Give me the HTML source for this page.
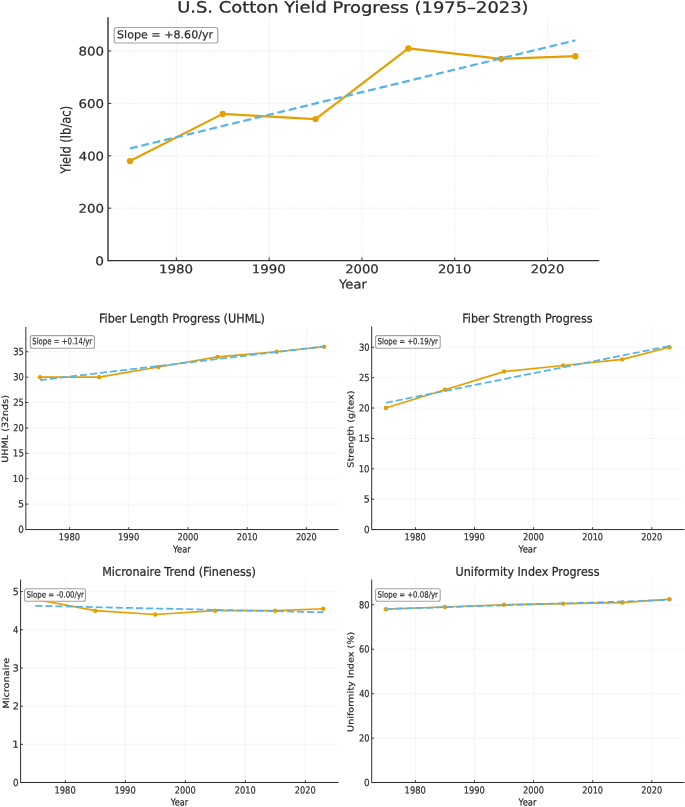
<!DOCTYPE html>
<html lang="en"><head><meta charset="utf-8"><title>U.S. Cotton Yield Progress</title>
<style>
html,body{margin:0;padding:0;background:#fff;}
body{width:685px;height:807px;overflow:hidden;}
svg{display:block;will-change:transform;}
svg text{font-family:"DejaVu Sans","Liberation Sans",sans-serif;text-rendering:geometricPrecision;stroke:#2b2b2b;stroke-linejoin:round;}
</style></head><body>
<svg width="685" height="807" viewBox="0 0 685 807">
<defs>
<filter id="b0" x="0" y="0" width="685" height="807" filterUnits="userSpaceOnUse" color-interpolation-filters="sRGB"><feGaussianBlur stdDeviation="0.28"/></filter>
<filter id="b1" x="0" y="0" width="685" height="807" filterUnits="userSpaceOnUse" color-interpolation-filters="sRGB"><feGaussianBlur stdDeviation="0.42"/></filter>
</defs>
<rect width="685" height="807" fill="#fff"/>
<g filter="url(#b0)">
<line x1="176.35" y1="18" x2="176.35" y2="260.6" stroke="#e3e3e3" stroke-width="0.8" stroke-dasharray="1.3 1.2"/>
<line x1="269.15" y1="18" x2="269.15" y2="260.6" stroke="#e3e3e3" stroke-width="0.8" stroke-dasharray="1.3 1.2"/>
<line x1="361.95" y1="18" x2="361.95" y2="260.6" stroke="#e3e3e3" stroke-width="0.8" stroke-dasharray="1.3 1.2"/>
<line x1="454.75" y1="18" x2="454.75" y2="260.6" stroke="#e3e3e3" stroke-width="0.8" stroke-dasharray="1.3 1.2"/>
<line x1="547.55" y1="18" x2="547.55" y2="260.6" stroke="#e3e3e3" stroke-width="0.8" stroke-dasharray="1.3 1.2"/>
<line x1="108" y1="208.20" x2="598.6" y2="208.20" stroke="#e3e3e3" stroke-width="0.8" stroke-dasharray="1.3 1.2"/>
<line x1="108" y1="155.80" x2="598.6" y2="155.80" stroke="#e3e3e3" stroke-width="0.8" stroke-dasharray="1.3 1.2"/>
<line x1="108" y1="103.40" x2="598.6" y2="103.40" stroke="#e3e3e3" stroke-width="0.8" stroke-dasharray="1.3 1.2"/>
<line x1="108" y1="51.00" x2="598.6" y2="51.00" stroke="#e3e3e3" stroke-width="0.8" stroke-dasharray="1.3 1.2"/>
<polyline points="129.95,161.04 222.75,113.88 315.55,119.12 408.35,48.38 501.15,58.86 575.39,56.24" fill="none" stroke="#E69F00" stroke-width="2.2" stroke-linejoin="round" stroke-linecap="square"/>
<circle cx="129.95" cy="161.04" r="3.15" fill="#E69F00"/>
<circle cx="222.75" cy="113.88" r="3.15" fill="#E69F00"/>
<circle cx="315.55" cy="119.12" r="3.15" fill="#E69F00"/>
<circle cx="408.35" cy="48.38" r="3.15" fill="#E69F00"/>
<circle cx="501.15" cy="58.86" r="3.15" fill="#E69F00"/>
<circle cx="575.39" cy="56.24" r="3.15" fill="#E69F00"/>
<line x1="129.95" y1="148.50" x2="575.39" y2="40.34" stroke="#56B4E9" stroke-width="2.2" stroke-dasharray="7.85 3.82"/>
<path d="M108 18 V260.6 H598.6" fill="none" stroke="#333333" stroke-width="1.4" stroke-linecap="square"/>
<line x1="176.35" y1="260.6" x2="176.35" y2="257.40000000000003" stroke="#333333" stroke-width="1"/>
<line x1="269.15" y1="260.6" x2="269.15" y2="257.40000000000003" stroke="#333333" stroke-width="1"/>
<line x1="361.95" y1="260.6" x2="361.95" y2="257.40000000000003" stroke="#333333" stroke-width="1"/>
<line x1="454.75" y1="260.6" x2="454.75" y2="257.40000000000003" stroke="#333333" stroke-width="1"/>
<line x1="547.55" y1="260.6" x2="547.55" y2="257.40000000000003" stroke="#333333" stroke-width="1"/>
<line x1="108" y1="260.60" x2="111.2" y2="260.60" stroke="#333333" stroke-width="1"/>
<line x1="108" y1="208.20" x2="111.2" y2="208.20" stroke="#333333" stroke-width="1"/>
<line x1="108" y1="155.80" x2="111.2" y2="155.80" stroke="#333333" stroke-width="1"/>
<line x1="108" y1="103.40" x2="111.2" y2="103.40" stroke="#333333" stroke-width="1"/>
<line x1="108" y1="51.00" x2="111.2" y2="51.00" stroke="#333333" stroke-width="1"/>
<text transform="translate(159.01,273.20) rotate(0.05) scale(1.1155,1)" font-size="12" stroke-width="0.216" fill="#2b2b2b">1980</text>
<text transform="translate(251.81,273.20) rotate(0.05) scale(1.1155,1)" font-size="12" stroke-width="0.216" fill="#2b2b2b">1990</text>
<text transform="translate(345.14,273.20) rotate(0.05) scale(1.0978,1)" font-size="12" stroke-width="0.216" fill="#2b2b2b">2000</text>
<text transform="translate(437.94,273.20) rotate(0.05) scale(1.0978,1)" font-size="12" stroke-width="0.216" fill="#2b2b2b">2010</text>
<text transform="translate(530.74,273.20) rotate(0.05) scale(1.0978,1)" font-size="12" stroke-width="0.216" fill="#2b2b2b">2020</text>
<text transform="translate(95.30,265.20) rotate(0.05) scale(1.1421,1)" font-size="12" stroke-width="0.216" fill="#2b2b2b">0</text>
<text transform="translate(78.42,212.80) rotate(0.05) scale(1.1175,1)" font-size="12" stroke-width="0.216" fill="#2b2b2b">200</text>
<text transform="translate(78.76,160.40) rotate(0.05) scale(1.1023,1)" font-size="12" stroke-width="0.216" fill="#2b2b2b">400</text>
<text transform="translate(78.47,108.00) rotate(0.05) scale(1.1153,1)" font-size="12" stroke-width="0.216" fill="#2b2b2b">600</text>
<text transform="translate(78.47,55.60) rotate(0.05) scale(1.1153,1)" font-size="12" stroke-width="0.216" fill="#2b2b2b">800</text>
<rect x="114.25" y="27.5" width="103.50" height="15.50" rx="2.2" fill="#fff" fill-opacity="0.85" stroke="#a4a4a4" stroke-width="1.2"/>
<text transform="translate(117.02,38.25) rotate(0.05) scale(1.0283,1)" font-size="10.8" stroke-width="0.194" fill="#2b2b2b">Slope = +8.60/yr</text>
<text transform="translate(177.21,12.50) rotate(0.05) scale(1.1546,1)" font-size="15.5" stroke-width="0.279" fill="#2b2b2b">U.S. Cotton Yield Progress (1975–2023)</text>
<text transform="translate(339.10,288.60) rotate(0.05) scale(1.0654,1)" font-size="12.3" stroke-width="0.221" fill="#2b2b2b">Year</text>
<text transform="translate(70.40,173.75) rotate(-89.95) scale(0.9610,1.1400)" font-size="12" stroke-width="0.216" fill="#2b2b2b">Yield (lb/ac)</text>
</g>
<g filter="url(#b1)">
<line x1="69.60" y1="327.5" x2="69.60" y2="529.55" stroke="#f1f1f1" stroke-width="0.7" stroke-dasharray="none"/>
<line x1="128.80" y1="327.5" x2="128.80" y2="529.55" stroke="#f1f1f1" stroke-width="0.7" stroke-dasharray="none"/>
<line x1="188.00" y1="327.5" x2="188.00" y2="529.55" stroke="#f1f1f1" stroke-width="0.7" stroke-dasharray="none"/>
<line x1="247.20" y1="327.5" x2="247.20" y2="529.55" stroke="#f1f1f1" stroke-width="0.7" stroke-dasharray="none"/>
<line x1="306.40" y1="327.5" x2="306.40" y2="529.55" stroke="#f1f1f1" stroke-width="0.7" stroke-dasharray="none"/>
<line x1="25.85" y1="504.11" x2="338" y2="504.11" stroke="#f1f1f1" stroke-width="0.7" stroke-dasharray="none"/>
<line x1="25.85" y1="478.72" x2="338" y2="478.72" stroke="#f1f1f1" stroke-width="0.7" stroke-dasharray="none"/>
<line x1="25.85" y1="453.33" x2="338" y2="453.33" stroke="#f1f1f1" stroke-width="0.7" stroke-dasharray="none"/>
<line x1="25.85" y1="427.94" x2="338" y2="427.94" stroke="#f1f1f1" stroke-width="0.7" stroke-dasharray="none"/>
<line x1="25.85" y1="402.55" x2="338" y2="402.55" stroke="#f1f1f1" stroke-width="0.7" stroke-dasharray="none"/>
<line x1="25.85" y1="377.16" x2="338" y2="377.16" stroke="#f1f1f1" stroke-width="0.7" stroke-dasharray="none"/>
<line x1="25.85" y1="351.77" x2="338" y2="351.77" stroke="#f1f1f1" stroke-width="0.7" stroke-dasharray="none"/>
<polyline points="40.00,377.16 99.20,377.16 158.40,367.00 217.60,356.85 276.80,351.77 324.16,346.69" fill="none" stroke="#E69F00" stroke-width="1.7" stroke-linejoin="round" stroke-linecap="square"/>
<circle cx="40.00" cy="377.16" r="2.2" fill="#E69F00"/>
<circle cx="99.20" cy="377.16" r="2.2" fill="#E69F00"/>
<circle cx="158.40" cy="367.00" r="2.2" fill="#E69F00"/>
<circle cx="217.60" cy="356.85" r="2.2" fill="#E69F00"/>
<circle cx="276.80" cy="351.77" r="2.2" fill="#E69F00"/>
<circle cx="324.16" cy="346.69" r="2.2" fill="#E69F00"/>
<line x1="40.00" y1="380.10" x2="324.16" y2="346.38" stroke="#56B4E9" stroke-width="1.75" stroke-dasharray="7.03 3.04"/>
<path d="M25.85 327.5 V529.55 H338" fill="none" stroke="#2e2e2e" stroke-width="1.0" stroke-linecap="square"/>
<line x1="69.60" y1="529.55" x2="69.60" y2="527.15" stroke="#2e2e2e" stroke-width="0.9"/>
<line x1="128.80" y1="529.55" x2="128.80" y2="527.15" stroke="#2e2e2e" stroke-width="0.9"/>
<line x1="188.00" y1="529.55" x2="188.00" y2="527.15" stroke="#2e2e2e" stroke-width="0.9"/>
<line x1="247.20" y1="529.55" x2="247.20" y2="527.15" stroke="#2e2e2e" stroke-width="0.9"/>
<line x1="306.40" y1="529.55" x2="306.40" y2="527.15" stroke="#2e2e2e" stroke-width="0.9"/>
<line x1="25.85" y1="529.50" x2="28.25" y2="529.50" stroke="#2e2e2e" stroke-width="0.9"/>
<line x1="25.85" y1="504.11" x2="28.25" y2="504.11" stroke="#2e2e2e" stroke-width="0.9"/>
<line x1="25.85" y1="478.72" x2="28.25" y2="478.72" stroke="#2e2e2e" stroke-width="0.9"/>
<line x1="25.85" y1="453.33" x2="28.25" y2="453.33" stroke="#2e2e2e" stroke-width="0.9"/>
<line x1="25.85" y1="427.94" x2="28.25" y2="427.94" stroke="#2e2e2e" stroke-width="0.9"/>
<line x1="25.85" y1="402.55" x2="28.25" y2="402.55" stroke="#2e2e2e" stroke-width="0.9"/>
<line x1="25.85" y1="377.16" x2="28.25" y2="377.16" stroke="#2e2e2e" stroke-width="0.9"/>
<line x1="25.85" y1="351.77" x2="28.25" y2="351.77" stroke="#2e2e2e" stroke-width="0.9"/>
<text transform="translate(58.77,540.30) rotate(0.05) scale(0.8609,1)" font-size="9.7" stroke-width="0.213" fill="#2a2a2a">1980</text>
<text transform="translate(117.97,540.30) rotate(0.05) scale(0.8609,1)" font-size="9.7" stroke-width="0.213" fill="#2a2a2a">1990</text>
<text transform="translate(177.50,540.30) rotate(0.05) scale(0.8471,1)" font-size="9.7" stroke-width="0.213" fill="#2a2a2a">2000</text>
<text transform="translate(236.70,540.30) rotate(0.05) scale(0.8471,1)" font-size="9.7" stroke-width="0.213" fill="#2a2a2a">2010</text>
<text transform="translate(295.90,540.30) rotate(0.05) scale(0.8471,1)" font-size="9.7" stroke-width="0.213" fill="#2a2a2a">2020</text>
<text transform="translate(18.13,532.70) rotate(0.05) scale(0.9153,1)" font-size="9.7" stroke-width="0.213" fill="#2a2a2a">0</text>
<text transform="translate(17.96,507.31) rotate(0.05) scale(0.9818,1)" font-size="9.7" stroke-width="0.213" fill="#2a2a2a">5</text>
<text transform="translate(12.84,481.92) rotate(0.05) scale(0.8847,1)" font-size="9.7" stroke-width="0.213" fill="#2a2a2a">10</text>
<text transform="translate(12.82,456.53) rotate(0.05) scale(0.9024,1)" font-size="9.7" stroke-width="0.213" fill="#2a2a2a">15</text>
<text transform="translate(13.19,431.14) rotate(0.05) scale(0.8545,1)" font-size="9.7" stroke-width="0.213" fill="#2a2a2a">20</text>
<text transform="translate(13.18,405.75) rotate(0.05) scale(0.8710,1)" font-size="9.7" stroke-width="0.213" fill="#2a2a2a">25</text>
<text transform="translate(13.16,380.36) rotate(0.05) scale(0.8578,1)" font-size="9.7" stroke-width="0.213" fill="#2a2a2a">30</text>
<text transform="translate(13.14,354.97) rotate(0.05) scale(0.8744,1)" font-size="9.7" stroke-width="0.213" fill="#2a2a2a">35</text>
<rect x="30.35" y="335.6" width="64.10" height="12.60" rx="2" fill="#fff" fill-opacity="0.85" stroke="#a2a2a2" stroke-width="1.1"/>
<text transform="translate(32.29,344.25) rotate(0.05) scale(0.7802,1)" font-size="8.9" stroke-width="0.196" fill="#2a2a2a">Slope = +0.14/yr</text>
<text transform="translate(98.91,322.50) rotate(0.05) scale(0.9351,1)" font-size="12" stroke-width="0.264" fill="#2a2a2a">Fiber Length Progress (UHML)</text>
<text transform="translate(173.00,552.50) rotate(0.05) scale(0.8820,1)" font-size="9.5" stroke-width="0.209" fill="#2a2a2a">Year</text>
<text transform="translate(8.00,462.63) rotate(-89.95) scale(0.9963,0.9000)" font-size="9.6" stroke-width="0.211" fill="#2a2a2a">UHML (32nds)</text>
</g>
<g filter="url(#b1)">
<line x1="415.40" y1="327" x2="415.40" y2="529.55" stroke="#f1f1f1" stroke-width="0.7" stroke-dasharray="none"/>
<line x1="474.50" y1="327" x2="474.50" y2="529.55" stroke="#f1f1f1" stroke-width="0.7" stroke-dasharray="none"/>
<line x1="533.60" y1="327" x2="533.60" y2="529.55" stroke="#f1f1f1" stroke-width="0.7" stroke-dasharray="none"/>
<line x1="592.70" y1="327" x2="592.70" y2="529.55" stroke="#f1f1f1" stroke-width="0.7" stroke-dasharray="none"/>
<line x1="651.80" y1="327" x2="651.80" y2="529.55" stroke="#f1f1f1" stroke-width="0.7" stroke-dasharray="none"/>
<line x1="371.7" y1="499.21" x2="684" y2="499.21" stroke="#f1f1f1" stroke-width="0.7" stroke-dasharray="none"/>
<line x1="371.7" y1="468.82" x2="684" y2="468.82" stroke="#f1f1f1" stroke-width="0.7" stroke-dasharray="none"/>
<line x1="371.7" y1="438.43" x2="684" y2="438.43" stroke="#f1f1f1" stroke-width="0.7" stroke-dasharray="none"/>
<line x1="371.7" y1="408.04" x2="684" y2="408.04" stroke="#f1f1f1" stroke-width="0.7" stroke-dasharray="none"/>
<line x1="371.7" y1="377.65" x2="684" y2="377.65" stroke="#f1f1f1" stroke-width="0.7" stroke-dasharray="none"/>
<line x1="371.7" y1="347.26" x2="684" y2="347.26" stroke="#f1f1f1" stroke-width="0.7" stroke-dasharray="none"/>
<polyline points="385.85,408.04 444.95,389.81 504.05,371.57 563.15,365.49 622.25,359.42 669.53,347.26" fill="none" stroke="#E69F00" stroke-width="1.7" stroke-linejoin="round" stroke-linecap="square"/>
<circle cx="385.85" cy="408.04" r="2.2" fill="#E69F00"/>
<circle cx="444.95" cy="389.81" r="2.2" fill="#E69F00"/>
<circle cx="504.05" cy="371.57" r="2.2" fill="#E69F00"/>
<circle cx="563.15" cy="365.49" r="2.2" fill="#E69F00"/>
<circle cx="622.25" cy="359.42" r="2.2" fill="#E69F00"/>
<circle cx="669.53" cy="347.26" r="2.2" fill="#E69F00"/>
<line x1="385.85" y1="402.74" x2="669.53" y2="346.03" stroke="#56B4E9" stroke-width="1.75" stroke-dasharray="7.03 3.04"/>
<path d="M371.7 327 V529.55 H684" fill="none" stroke="#2e2e2e" stroke-width="1.0" stroke-linecap="square"/>
<line x1="415.40" y1="529.55" x2="415.40" y2="527.15" stroke="#2e2e2e" stroke-width="0.9"/>
<line x1="474.50" y1="529.55" x2="474.50" y2="527.15" stroke="#2e2e2e" stroke-width="0.9"/>
<line x1="533.60" y1="529.55" x2="533.60" y2="527.15" stroke="#2e2e2e" stroke-width="0.9"/>
<line x1="592.70" y1="529.55" x2="592.70" y2="527.15" stroke="#2e2e2e" stroke-width="0.9"/>
<line x1="651.80" y1="529.55" x2="651.80" y2="527.15" stroke="#2e2e2e" stroke-width="0.9"/>
<line x1="371.7" y1="529.60" x2="374.09999999999997" y2="529.60" stroke="#2e2e2e" stroke-width="0.9"/>
<line x1="371.7" y1="499.21" x2="374.09999999999997" y2="499.21" stroke="#2e2e2e" stroke-width="0.9"/>
<line x1="371.7" y1="468.82" x2="374.09999999999997" y2="468.82" stroke="#2e2e2e" stroke-width="0.9"/>
<line x1="371.7" y1="438.43" x2="374.09999999999997" y2="438.43" stroke="#2e2e2e" stroke-width="0.9"/>
<line x1="371.7" y1="408.04" x2="374.09999999999997" y2="408.04" stroke="#2e2e2e" stroke-width="0.9"/>
<line x1="371.7" y1="377.65" x2="374.09999999999997" y2="377.65" stroke="#2e2e2e" stroke-width="0.9"/>
<line x1="371.7" y1="347.26" x2="374.09999999999997" y2="347.26" stroke="#2e2e2e" stroke-width="0.9"/>
<text transform="translate(404.57,540.30) rotate(0.05) scale(0.8609,1)" font-size="9.7" stroke-width="0.213" fill="#2a2a2a">1980</text>
<text transform="translate(463.67,540.30) rotate(0.05) scale(0.8609,1)" font-size="9.7" stroke-width="0.213" fill="#2a2a2a">1990</text>
<text transform="translate(523.10,540.30) rotate(0.05) scale(0.8471,1)" font-size="9.7" stroke-width="0.213" fill="#2a2a2a">2000</text>
<text transform="translate(582.20,540.30) rotate(0.05) scale(0.8471,1)" font-size="9.7" stroke-width="0.213" fill="#2a2a2a">2010</text>
<text transform="translate(641.30,540.30) rotate(0.05) scale(0.8471,1)" font-size="9.7" stroke-width="0.213" fill="#2a2a2a">2020</text>
<text transform="translate(363.93,533.00) rotate(0.05) scale(0.9153,1)" font-size="9.7" stroke-width="0.213" fill="#2a2a2a">0</text>
<text transform="translate(363.76,502.61) rotate(0.05) scale(0.9818,1)" font-size="9.7" stroke-width="0.213" fill="#2a2a2a">5</text>
<text transform="translate(358.64,472.22) rotate(0.05) scale(0.8847,1)" font-size="9.7" stroke-width="0.213" fill="#2a2a2a">10</text>
<text transform="translate(358.62,441.83) rotate(0.05) scale(0.9024,1)" font-size="9.7" stroke-width="0.213" fill="#2a2a2a">15</text>
<text transform="translate(358.99,411.44) rotate(0.05) scale(0.8545,1)" font-size="9.7" stroke-width="0.213" fill="#2a2a2a">20</text>
<text transform="translate(358.98,381.05) rotate(0.05) scale(0.8710,1)" font-size="9.7" stroke-width="0.213" fill="#2a2a2a">25</text>
<text transform="translate(358.96,350.66) rotate(0.05) scale(0.8578,1)" font-size="9.7" stroke-width="0.213" fill="#2a2a2a">30</text>
<rect x="375.6" y="335.6" width="64.60" height="12.60" rx="2" fill="#fff" fill-opacity="0.85" stroke="#a2a2a2" stroke-width="1.1"/>
<text transform="translate(377.55,344.25) rotate(0.05) scale(0.8219,1)" font-size="8.5" stroke-width="0.187" fill="#2a2a2a">Slope = +0.19/yr</text>
<text transform="translate(462.16,322.50) rotate(0.05) scale(0.9317,1)" font-size="12" stroke-width="0.264" fill="#2a2a2a">Fiber Strength Progress</text>
<text transform="translate(518.60,552.40) rotate(0.05) scale(0.8894,1)" font-size="9.5" stroke-width="0.209" fill="#2a2a2a">Year</text>
<text transform="translate(353.40,467.64) rotate(-89.95) scale(1.0197,0.8800)" font-size="9.5" stroke-width="0.209" fill="#2a2a2a">Strength (g/tex)</text>
</g>
<g filter="url(#b1)">
<line x1="65.30" y1="580" x2="65.30" y2="782.5" stroke="#f1f1f1" stroke-width="0.7" stroke-dasharray="none"/>
<line x1="125.30" y1="580" x2="125.30" y2="782.5" stroke="#f1f1f1" stroke-width="0.7" stroke-dasharray="none"/>
<line x1="185.30" y1="580" x2="185.30" y2="782.5" stroke="#f1f1f1" stroke-width="0.7" stroke-dasharray="none"/>
<line x1="245.30" y1="580" x2="245.30" y2="782.5" stroke="#f1f1f1" stroke-width="0.7" stroke-dasharray="none"/>
<line x1="305.30" y1="580" x2="305.30" y2="782.5" stroke="#f1f1f1" stroke-width="0.7" stroke-dasharray="none"/>
<line x1="20.6" y1="744.40" x2="338" y2="744.40" stroke="#f1f1f1" stroke-width="0.7" stroke-dasharray="none"/>
<line x1="20.6" y1="706.20" x2="338" y2="706.20" stroke="#f1f1f1" stroke-width="0.7" stroke-dasharray="none"/>
<line x1="20.6" y1="668.00" x2="338" y2="668.00" stroke="#f1f1f1" stroke-width="0.7" stroke-dasharray="none"/>
<line x1="20.6" y1="629.80" x2="338" y2="629.80" stroke="#f1f1f1" stroke-width="0.7" stroke-dasharray="none"/>
<line x1="20.6" y1="591.60" x2="338" y2="591.60" stroke="#f1f1f1" stroke-width="0.7" stroke-dasharray="none"/>
<polyline points="35.30,599.24 95.30,610.70 155.30,614.52 215.30,610.70 275.30,610.70 323.30,608.79" fill="none" stroke="#E69F00" stroke-width="1.7" stroke-linejoin="round" stroke-linecap="square"/>
<circle cx="35.30" cy="599.24" r="2.2" fill="#E69F00"/>
<circle cx="95.30" cy="610.70" r="2.2" fill="#E69F00"/>
<circle cx="155.30" cy="614.52" r="2.2" fill="#E69F00"/>
<circle cx="215.30" cy="610.70" r="2.2" fill="#E69F00"/>
<circle cx="275.30" cy="610.70" r="2.2" fill="#E69F00"/>
<circle cx="323.30" cy="608.79" r="2.2" fill="#E69F00"/>
<line x1="35.30" y1="605.82" x2="323.30" y2="612.22" stroke="#56B4E9" stroke-width="1.75" stroke-dasharray="7.03 3.04"/>
<path d="M20.6 580 V782.5 H338" fill="none" stroke="#2e2e2e" stroke-width="1.0" stroke-linecap="square"/>
<line x1="65.30" y1="782.5" x2="65.30" y2="780.1" stroke="#2e2e2e" stroke-width="0.9"/>
<line x1="125.30" y1="782.5" x2="125.30" y2="780.1" stroke="#2e2e2e" stroke-width="0.9"/>
<line x1="185.30" y1="782.5" x2="185.30" y2="780.1" stroke="#2e2e2e" stroke-width="0.9"/>
<line x1="245.30" y1="782.5" x2="245.30" y2="780.1" stroke="#2e2e2e" stroke-width="0.9"/>
<line x1="305.30" y1="782.5" x2="305.30" y2="780.1" stroke="#2e2e2e" stroke-width="0.9"/>
<line x1="20.6" y1="782.60" x2="23.0" y2="782.60" stroke="#2e2e2e" stroke-width="0.9"/>
<line x1="20.6" y1="744.40" x2="23.0" y2="744.40" stroke="#2e2e2e" stroke-width="0.9"/>
<line x1="20.6" y1="706.20" x2="23.0" y2="706.20" stroke="#2e2e2e" stroke-width="0.9"/>
<line x1="20.6" y1="668.00" x2="23.0" y2="668.00" stroke="#2e2e2e" stroke-width="0.9"/>
<line x1="20.6" y1="629.80" x2="23.0" y2="629.80" stroke="#2e2e2e" stroke-width="0.9"/>
<line x1="20.6" y1="591.60" x2="23.0" y2="591.60" stroke="#2e2e2e" stroke-width="0.9"/>
<text transform="translate(54.47,793.50) rotate(0.05) scale(0.8609,1)" font-size="9.7" stroke-width="0.213" fill="#2a2a2a">1980</text>
<text transform="translate(114.47,793.50) rotate(0.05) scale(0.8609,1)" font-size="9.7" stroke-width="0.213" fill="#2a2a2a">1990</text>
<text transform="translate(174.80,793.50) rotate(0.05) scale(0.8471,1)" font-size="9.7" stroke-width="0.213" fill="#2a2a2a">2000</text>
<text transform="translate(234.80,793.50) rotate(0.05) scale(0.8471,1)" font-size="9.7" stroke-width="0.213" fill="#2a2a2a">2010</text>
<text transform="translate(294.80,793.50) rotate(0.05) scale(0.8471,1)" font-size="9.7" stroke-width="0.213" fill="#2a2a2a">2020</text>
<text transform="translate(12.93,786.00) rotate(0.05) scale(0.9153,1)" font-size="9.7" stroke-width="0.213" fill="#2a2a2a">0</text>
<text transform="translate(12.34,747.80) rotate(0.05) scale(1.0693,1)" font-size="9.7" stroke-width="0.213" fill="#2a2a2a">1</text>
<text transform="translate(12.79,709.60) rotate(0.05) scale(1.0000,1)" font-size="9.7" stroke-width="0.213" fill="#2a2a2a">2</text>
<text transform="translate(12.78,671.40) rotate(0.05) scale(0.9643,1)" font-size="9.7" stroke-width="0.213" fill="#2a2a2a">3</text>
<text transform="translate(13.10,633.20) rotate(0.05) scale(0.8710,1)" font-size="9.7" stroke-width="0.213" fill="#2a2a2a">4</text>
<text transform="translate(12.76,595.00) rotate(0.05) scale(0.9818,1)" font-size="9.7" stroke-width="0.213" fill="#2a2a2a">5</text>
<rect x="24.6" y="588.7" width="60.85" height="12.50" rx="2" fill="#fff" fill-opacity="0.85" stroke="#a2a2a2" stroke-width="1.1"/>
<text transform="translate(26.55,597.50) rotate(0.05) scale(0.8266,1)" font-size="8.5" stroke-width="0.187" fill="#2a2a2a">Slope = -0.00/yr</text>
<text transform="translate(102.16,575.75) rotate(0.05) scale(0.9360,1)" font-size="12" stroke-width="0.264" fill="#2a2a2a">Micronaire Trend (Fineness)</text>
<text transform="translate(170.75,805.50) rotate(0.05) scale(0.8571,1)" font-size="9.5" stroke-width="0.209" fill="#2a2a2a">Year</text>
<text transform="translate(9.00,708.69) rotate(-89.95) scale(1.0277,0.8800)" font-size="9.5" stroke-width="0.209" fill="#2a2a2a">Micronaire</text>
</g>
<g filter="url(#b1)">
<line x1="415.40" y1="580" x2="415.40" y2="782.5" stroke="#f1f1f1" stroke-width="0.7" stroke-dasharray="none"/>
<line x1="474.50" y1="580" x2="474.50" y2="782.5" stroke="#f1f1f1" stroke-width="0.7" stroke-dasharray="none"/>
<line x1="533.60" y1="580" x2="533.60" y2="782.5" stroke="#f1f1f1" stroke-width="0.7" stroke-dasharray="none"/>
<line x1="592.70" y1="580" x2="592.70" y2="782.5" stroke="#f1f1f1" stroke-width="0.7" stroke-dasharray="none"/>
<line x1="651.80" y1="580" x2="651.80" y2="782.5" stroke="#f1f1f1" stroke-width="0.7" stroke-dasharray="none"/>
<line x1="371.7" y1="738.14" x2="684" y2="738.14" stroke="#f1f1f1" stroke-width="0.7" stroke-dasharray="none"/>
<line x1="371.7" y1="693.68" x2="684" y2="693.68" stroke="#f1f1f1" stroke-width="0.7" stroke-dasharray="none"/>
<line x1="371.7" y1="649.22" x2="684" y2="649.22" stroke="#f1f1f1" stroke-width="0.7" stroke-dasharray="none"/>
<line x1="371.7" y1="604.76" x2="684" y2="604.76" stroke="#f1f1f1" stroke-width="0.7" stroke-dasharray="none"/>
<polyline points="385.85,609.21 444.95,606.98 504.05,604.76 563.15,603.65 622.25,602.54 669.53,599.20" fill="none" stroke="#E69F00" stroke-width="1.7" stroke-linejoin="round" stroke-linecap="square"/>
<circle cx="385.85" cy="609.21" r="2.2" fill="#E69F00"/>
<circle cx="444.95" cy="606.98" r="2.2" fill="#E69F00"/>
<circle cx="504.05" cy="604.76" r="2.2" fill="#E69F00"/>
<circle cx="563.15" cy="603.65" r="2.2" fill="#E69F00"/>
<circle cx="622.25" cy="602.54" r="2.2" fill="#E69F00"/>
<circle cx="669.53" cy="599.20" r="2.2" fill="#E69F00"/>
<line x1="385.85" y1="609.04" x2="669.53" y2="599.99" stroke="#56B4E9" stroke-width="1.75" stroke-dasharray="7.03 3.04"/>
<path d="M371.7 580 V782.5 H684" fill="none" stroke="#2e2e2e" stroke-width="1.0" stroke-linecap="square"/>
<line x1="415.40" y1="782.5" x2="415.40" y2="780.1" stroke="#2e2e2e" stroke-width="0.9"/>
<line x1="474.50" y1="782.5" x2="474.50" y2="780.1" stroke="#2e2e2e" stroke-width="0.9"/>
<line x1="533.60" y1="782.5" x2="533.60" y2="780.1" stroke="#2e2e2e" stroke-width="0.9"/>
<line x1="592.70" y1="782.5" x2="592.70" y2="780.1" stroke="#2e2e2e" stroke-width="0.9"/>
<line x1="651.80" y1="782.5" x2="651.80" y2="780.1" stroke="#2e2e2e" stroke-width="0.9"/>
<line x1="371.7" y1="782.60" x2="374.09999999999997" y2="782.60" stroke="#2e2e2e" stroke-width="0.9"/>
<line x1="371.7" y1="738.14" x2="374.09999999999997" y2="738.14" stroke="#2e2e2e" stroke-width="0.9"/>
<line x1="371.7" y1="693.68" x2="374.09999999999997" y2="693.68" stroke="#2e2e2e" stroke-width="0.9"/>
<line x1="371.7" y1="649.22" x2="374.09999999999997" y2="649.22" stroke="#2e2e2e" stroke-width="0.9"/>
<line x1="371.7" y1="604.76" x2="374.09999999999997" y2="604.76" stroke="#2e2e2e" stroke-width="0.9"/>
<text transform="translate(404.57,793.50) rotate(0.05) scale(0.8609,1)" font-size="9.7" stroke-width="0.213" fill="#2a2a2a">1980</text>
<text transform="translate(463.67,793.50) rotate(0.05) scale(0.8609,1)" font-size="9.7" stroke-width="0.213" fill="#2a2a2a">1990</text>
<text transform="translate(523.10,793.50) rotate(0.05) scale(0.8471,1)" font-size="9.7" stroke-width="0.213" fill="#2a2a2a">2000</text>
<text transform="translate(582.20,793.50) rotate(0.05) scale(0.8471,1)" font-size="9.7" stroke-width="0.213" fill="#2a2a2a">2010</text>
<text transform="translate(641.30,793.50) rotate(0.05) scale(0.8471,1)" font-size="9.7" stroke-width="0.213" fill="#2a2a2a">2020</text>
<text transform="translate(363.93,786.00) rotate(0.05) scale(0.9153,1)" font-size="9.7" stroke-width="0.213" fill="#2a2a2a">0</text>
<text transform="translate(358.99,741.54) rotate(0.05) scale(0.8545,1)" font-size="9.7" stroke-width="0.213" fill="#2a2a2a">20</text>
<text transform="translate(359.22,697.08) rotate(0.05) scale(0.8356,1)" font-size="9.7" stroke-width="0.213" fill="#2a2a2a">40</text>
<text transform="translate(359.03,652.62) rotate(0.05) scale(0.8513,1)" font-size="9.7" stroke-width="0.213" fill="#2a2a2a">60</text>
<text transform="translate(359.03,608.16) rotate(0.05) scale(0.8513,1)" font-size="9.7" stroke-width="0.213" fill="#2a2a2a">80</text>
<rect x="375.6" y="588.7" width="64.60" height="12.50" rx="2" fill="#fff" fill-opacity="0.85" stroke="#a2a2a2" stroke-width="1.1"/>
<text transform="translate(377.55,597.50) rotate(0.05) scale(0.8219,1)" font-size="8.5" stroke-width="0.187" fill="#2a2a2a">Slope = +0.08/yr</text>
<text transform="translate(455.53,575.75) rotate(0.05) scale(0.9302,1)" font-size="12" stroke-width="0.264" fill="#2a2a2a">Uniformity Index Progress</text>
<text transform="translate(518.60,805.40) rotate(0.05) scale(0.8894,1)" font-size="9.5" stroke-width="0.209" fill="#2a2a2a">Year</text>
<text transform="translate(353.40,731.95) rotate(-89.95) scale(1.0185,0.8800)" font-size="9.5" stroke-width="0.209" fill="#2a2a2a">Uniformity Index (%)</text>
</g>
</svg>
</body></html>
